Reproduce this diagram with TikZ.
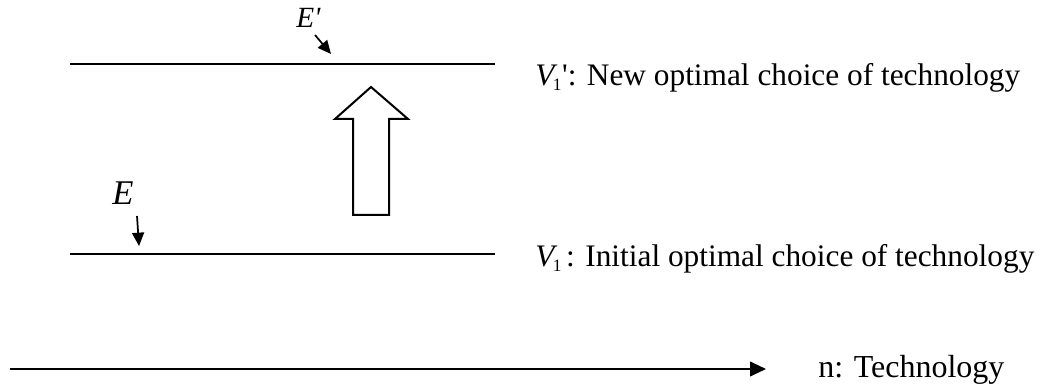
\documentclass[tikz,border=0pt]{standalone}
\usepackage{fontspec}
\setmainfont{Liberation Serif}
\usetikzlibrary{arrows.meta}
\tikzset{
  hline/.style={line width=1.5pt},
  lbl/.style={anchor=base west, inner sep=0pt, font=\fontsize{23.5}{28}\selectfont},
  axlbl/.style={anchor=base west, inner sep=0pt, font=\fontsize{24}{28}\selectfont},
  ptr/.style={line width=1.3pt, -{Triangle[length=10pt,width=9pt]}},
  axis/.style={line width=1.5pt, -{Triangle[length=12pt,width=11pt]}},
  block/.style={line width=1.5pt, fill=white, line join=miter}
}
\newcommand{\Vone}{{\itshape V}\kern-0.05em\raisebox{-0.3ex}{\fontsize{13}{15}\selectfont 1}}
\begin{document}
\begin{tikzpicture}[x=0.75pt,y=-0.75pt]
\useasboundingbox (0,0) rectangle (1044,391);
% horizontal lines
\coordinate (t1) at (70,64);
\coordinate (t2) at (495,64);
\coordinate (b1) at (70,254);
\coordinate (b2) at (495,254);
\draw[hline] (t1) -- (t2);
\draw[hline] (b1) -- (b2);
% axis
\coordinate (a1) at (10,369);
\coordinate (a2) at (766,369);
\draw[axis] (a1) -- (a2);
% labels
\node[lbl] (v1p) at (535,86) {\Vone\kern0.02em\textquotesingle: New optimal choice of technology};
\node[lbl] (v1) at (535,267) {\Vone\kern0.15em: Initial optimal choice of technology};
\node[axlbl] (n) at (818,377) {n: Technology};
% E labels
\node[anchor=base west, inner sep=0pt, font=\fontsize{22}{26}\selectfont\itshape] (ep) at (296,28) {E\textquotesingle};
\node[anchor=base west, inner sep=0pt, font=\fontsize{26}{30}\selectfont\itshape] (e) at (112,205) {E};
\coordinate (ep1) at (315,35);
\coordinate (ep2) at (331,54);
\coordinate (e1) at (137,216);
\coordinate (e2) at (139,246);
\draw[ptr] (ep1) -- (ep2);
\draw[ptr] (e1) -- (e2);
% block arrow
\draw[block] (371,87) -- (408,119) -- (389,119) -- (389,215) -- (353,215) -- (353,119) -- (335,119) -- cycle;
\end{tikzpicture}
\end{document}
